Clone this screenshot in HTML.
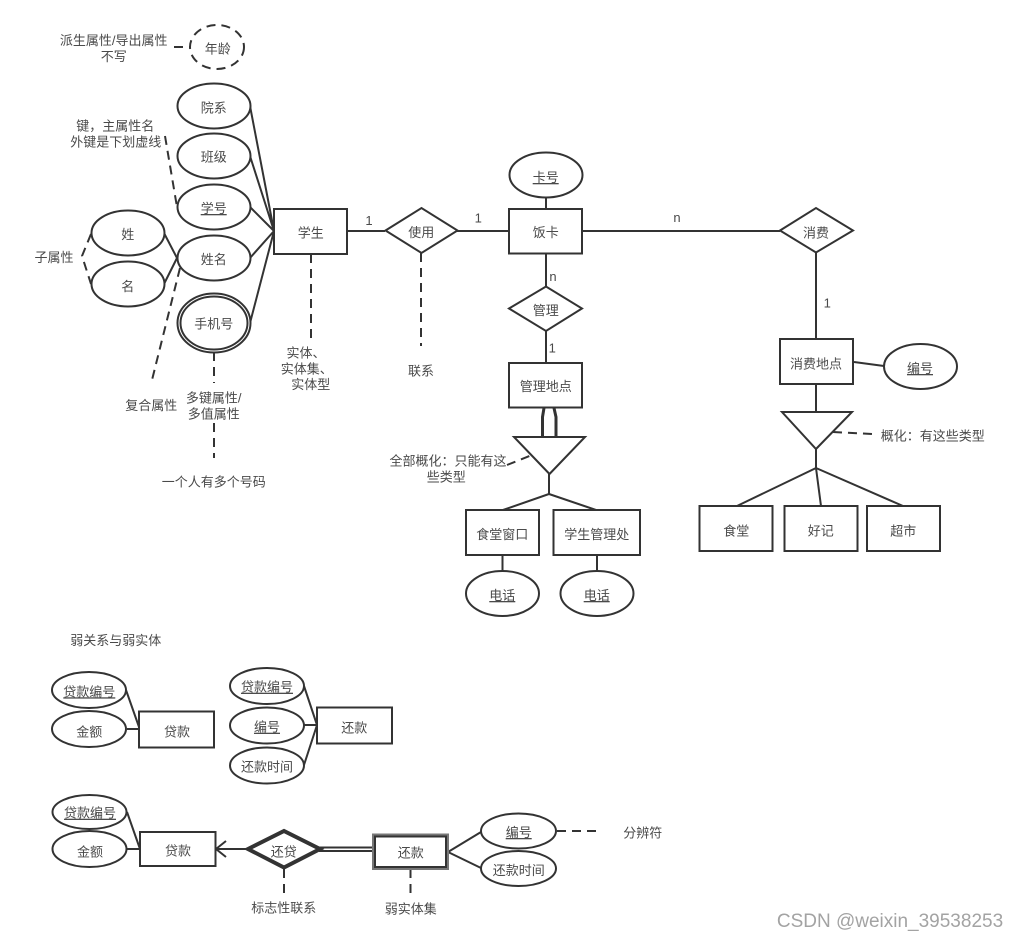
<!DOCTYPE html>
<html lang="zh">
<head>
<meta charset="utf-8">
<style>
html,body{margin:0;padding:0;background:#fff}
svg{display:block;filter:blur(0.35px)}
text{font-family:"Liberation Sans","Noto Sans CJK SC",sans-serif;font-size:13px;fill:#4a4a4a;text-anchor:middle}
.u{text-decoration:underline}
.s{fill:#fff;stroke:#333;stroke-width:2}
.l{fill:none;stroke:#333;stroke-width:2}
.d{fill:none;stroke:#333;stroke-width:2;stroke-dasharray:9 6}
</style>
</head>
<body>
<svg width="1017" height="941" viewBox="0 0 1017 941" xmlns="http://www.w3.org/2000/svg">
<!-- connectors -->
<g class="l">
<path d="M250 106L274 231M250 156L274 231M250 207L274 231M250 258L274 231M250 323L274 231"/>
<path d="M164 233L177 258M164 284L177 258"/>
<path d="M347 231H385M457 231H509M582 231H780"/>
<path d="M546 197V209M546 253V287M546 331V363"/>
<path d="M549 474V494L503 510M549 494L596 510" />
<path d="M502.500 555V571M597 555V571"/>
<path d="M816 252V339M816 384V412M854 362L884 366"/>
<path d="M816 449V468L737 506M816 468L821 506M816 468L903 506"/>
<path d="M126 690L139 727M127 729H139"/>
<path d="M304 686L317 725M304 725H317M304 765L317 725"/>
<path d="M127 812L140 849M127 849H140"/>
<path d="M248 849H216M226 841L216 849L226 857" />
<path d="M319 847.500H373M319 851H373"/>
<path d="M448 852L481 832M448 852L481 868"/>
</g>
<path d="M544 408L542.500 417V437M554 408L556 417V437" fill="none" stroke="#333" stroke-width="3"/>
<!-- dashed -->
<g class="d">
<path d="M174 47H190"/>
<path d="M165 136L177 207"/>
<path d="M91 234L82 256L91 284"/>
<path d="M180 268L151 384"/>
<path d="M214 352V383M214 423V458"/>
<path d="M311 254V340"/>
<path d="M421 253V346"/>
<path d="M284 869V896M410.500 869V897"/>
<path d="M557 831H597"/>
</g>
<!-- ellipses -->
<ellipse cx="217" cy="47" rx="27" ry="22" fill="#fff" stroke="#333" stroke-width="2" stroke-dasharray="9 6"/>
<ellipse class="s" cx="214" cy="106" rx="36.500" ry="22.500"/>
<ellipse class="s" cx="214" cy="156" rx="36.500" ry="22.500"/>
<ellipse class="s" cx="214" cy="207" rx="36.500" ry="22.500"/>
<ellipse class="s" cx="214" cy="258" rx="36.500" ry="22.500"/>
<ellipse class="s" cx="214" cy="323" rx="36.500" ry="29.500"/>
<ellipse class="s" cx="214" cy="323" rx="33.500" ry="26.500"/>
<ellipse class="s" cx="128" cy="233" rx="36.500" ry="22.500"/>
<ellipse class="s" cx="128" cy="284" rx="36.500" ry="22.500"/>
<ellipse class="s" cx="546" cy="175" rx="36.500" ry="22.500"/>
<ellipse class="s" cx="502.500" cy="593.500" rx="36.500" ry="22.500"/>
<ellipse class="s" cx="597" cy="593.500" rx="36.500" ry="22.500"/>
<ellipse class="s" cx="920.500" cy="366.500" rx="36.500" ry="22.500"/>
<ellipse class="s" cx="89" cy="690" rx="37" ry="18"/>
<ellipse class="s" cx="89" cy="729" rx="37" ry="18"/>
<ellipse class="s" cx="267" cy="686" rx="37" ry="18"/>
<ellipse class="s" cx="267" cy="725.500" rx="37" ry="18"/>
<ellipse class="s" cx="267" cy="765.500" rx="37" ry="18"/>
<ellipse class="s" cx="89.500" cy="812" rx="37" ry="17"/>
<ellipse class="s" cx="89.500" cy="849" rx="37" ry="18"/>
<ellipse class="s" cx="518.500" cy="831" rx="37.500" ry="17.500"/>
<ellipse class="s" cx="518.500" cy="868.500" rx="37.500" ry="17.500"/>
<!-- rects -->
<rect class="s" x="274" y="209" width="73" height="45"/>
<rect class="s" x="509" y="209" width="73" height="44.500"/>
<rect class="s" x="509" y="363" width="73" height="44.500"/>
<rect class="s" x="466" y="510" width="73" height="45"/>
<rect class="s" x="553.500" y="510" width="86.500" height="45"/>
<rect class="s" x="780" y="339" width="73" height="45"/>
<rect class="s" x="699.500" y="506" width="73" height="45"/>
<rect class="s" x="784.500" y="506" width="73" height="45"/>
<rect class="s" x="867" y="506" width="73" height="45"/>
<rect class="s" x="139" y="711.500" width="75" height="36"/>
<rect class="s" x="317" y="707.500" width="75" height="36"/>
<rect class="s" x="140" y="832" width="75.500" height="34"/>
<rect x="374" y="835.500" width="73" height="32.500" fill="#fff" stroke="#777" stroke-width="4"/>
<rect x="375" y="836.500" width="71" height="30.500" fill="#fff" stroke="#333" stroke-width="2"/>
<!-- diamonds -->
<polygon class="s" points="385.500,230.500 421.500,208 457.500,230.500 421.500,253"/>
<polygon class="s" points="509,308.500 546,286.500 582,308.500 546,331"/>
<polygon class="s" points="780,230.500 816,208 853,230.500 816,252.500"/>
<polygon points="248,849 284,831 320,849 284,867.500" fill="#fff" stroke="#333" stroke-width="4"/>
<!-- triangles -->
<polygon class="s" points="514,437 585,437 549.500,474"/>
<polygon class="s" points="782,412 852,412 816,449"/>
<path class="d" d="M507 465L532 455"/>
<path class="d" d="M833 432L873 434"/>
<!-- labels -->
<g transform="translate(0,0.5)">
<text x="113.700" y="44.500">派生属性/导出属性</text>
<text x="113.700" y="60.500">不写</text>
<text x="217.700" y="52.800">年龄</text>
<text x="213.700" y="112">院系</text>
<text x="213.700" y="161">班级</text>
<text x="213.700" y="212.500" class="u">学号</text>
<text x="213.700" y="263.500">姓名</text>
<text x="213.700" y="328">手机号</text>
<text x="115.300" y="129.800">键，主属性名</text>
<text x="115.700" y="145.800">外键是下划虚线</text>
<text x="127.700" y="238.500">姓</text>
<text x="127.700" y="290.500">名</text>
<text x="54" y="261.500">子属性</text>
<text x="151.300" y="409.500">复合属性</text>
<text x="213.700" y="401.800">多键属性/</text>
<text x="213.700" y="417.800">多值属性</text>
<text x="213.700" y="486">一个人有多个号码</text>
<text x="306" y="357">实体、</text>
<text x="306.700" y="372.800">实体集、</text>
<text x="310.700" y="388.500">实体型</text>
<text x="310.700" y="237">学生</text>
<text x="369" y="224.500">1</text>
<text x="421.300" y="236.500">使用</text>
<text x="478.300" y="221.800">1</text>
<text x="545.700" y="236.500">饭卡</text>
<text x="545.700" y="181.500" class="u">卡号</text>
<text x="553" y="280.500">n</text>
<text x="545.700" y="314.500">管理</text>
<text x="552.300" y="351.800">1</text>
<text x="545.700" y="390.500">管理地点</text>
<text x="421" y="375.200">联系</text>
<text x="448" y="465">全部概化：只能有这</text>
<text x="446.300" y="481">些类型</text>
<text x="502.300" y="538.500">食堂窗口</text>
<text x="596.700" y="538.500">学生管理处</text>
<text x="502.300" y="599.500" class="u">电话</text>
<text x="596.700" y="599.500" class="u">电话</text>
<text x="677" y="221.500">n</text>
<text x="816" y="236.800">消费</text>
<text x="827.300" y="306.800">1</text>
<text x="816" y="367.800">消费地点</text>
<text x="920" y="372.500" class="u">编号</text>
<text x="932.700" y="439.800">概化：有这些类型</text>
<text x="736.300" y="535.200">食堂</text>
<text x="820.700" y="535.200">好记</text>
<text x="903.300" y="535.200">超市</text>
<text x="115.700" y="644.500">弱关系与弱实体</text>
<text x="89.300" y="695.800" class="u">贷款编号</text>
<text x="89.300" y="735.800">金额</text>
<text x="177" y="735.800">贷款</text>
<text x="267" y="691.200" class="u">贷款编号</text>
<text x="267" y="731.200" class="u">编号</text>
<text x="267" y="771.200">还款时间</text>
<text x="354.300" y="731.800">还款</text>
<text x="90" y="817.200" class="u">贷款编号</text>
<text x="90" y="855.800">金额</text>
<text x="178" y="855.200">贷款</text>
<text x="283.700" y="856.200">还贷</text>
<text x="283.700" y="911.800">标志性联系</text>
<text x="410.700" y="912.800">弱实体集</text>
<text x="410.700" y="857.200">还款</text>
<text x="518.700" y="836.500" class="u">编号</text>
<text x="518.700" y="874.500">还款时间</text>
<text x="642.700" y="836.800">分辨符</text>
</g>
<text x="890" y="927" style="font-size:19px;fill:#a3a3a3">CSDN @weixin_39538253</text>
</svg>
</body>
</html>
